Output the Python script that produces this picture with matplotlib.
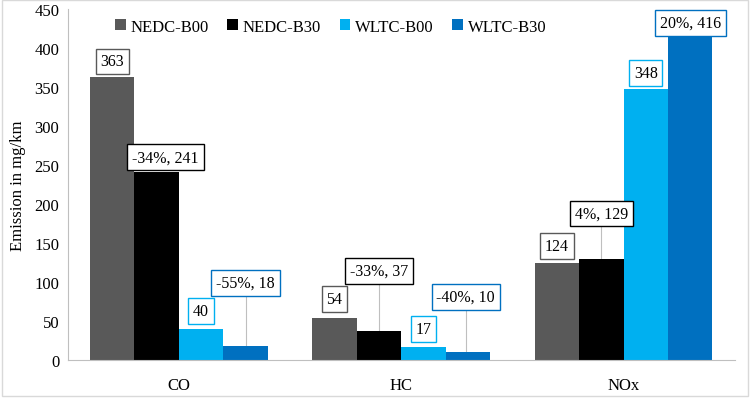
import matplotlib
matplotlib.use("Agg")
import matplotlib.pyplot as plt
import numpy as np
from matplotlib.patches import Rectangle

plt.rcParams['font.family'] = ['Liberation Serif', 'DejaVu Serif']

categories = ["CO", "HC", "NOx"]
series = ["NEDC-B00", "NEDC-B30", "WLTC-B00", "WLTC-B30"]
nedc_b00 = [363, 54, 124]
nedc_b30 = [241, 37, 129]
wltc_b00 = [40, 17, 348]
wltc_b30 = [18, 10, 416]
change_nedc = [-34, -33, 4]
change_wltc = [-55, -40, 20]

colors = ["#595959", "#000000", "#00B0F0", "#0070C0"]

# label layout: (x offset in bar units, y offset in mg/km) per series per category
label_offsets = [
    [(0, 20), (0, 24), (0, 22)],
    [(0.2, 19), (0, 77), (0, 59)],
    [(0, 23), (0, 23), (0, 20)],
    [(0, 81), (-0.05, 71), (0, 16)],
]
leader = [False, True, False, True]

fig = plt.figure(figsize=(7.52, 4.02), dpi=100)
ax = fig.add_axes([0.090, 0.102, 0.887, 0.873])

x = np.arange(len(categories))
w = 0.2
values = [nedc_b00, nedc_b30, wltc_b00, wltc_b30]
for i, (vals, name) in enumerate(zip(values, series)):
    xs = x + (i - 1.5) * w
    ax.bar(xs, vals, width=w, color=colors[i], label=name, zorder=2)
    for j, v in enumerate(vals):
        if i == 1:
            txt = f"{change_nedc[j]}%, {v}"
        elif i == 3:
            txt = f"{change_wltc[j]}%, {v}"
        else:
            txt = f"{v}"
        dx, dy = label_offsets[i][j]
        tx, ty = xs[j] + dx * w, v + dy
        if leader[i] and dy > 30:
            ax.plot([tx, tx], [v, ty], color="#bfbfbf", lw=0.8, zorder=1)
        ax.text(tx, ty, txt, ha="center", va="center", fontsize=11.5, zorder=4,
                bbox=dict(boxstyle="square,pad=0.3", fc="white", ec=colors[i], lw=1.0))

ax.set_xlim(-0.5, 2.5)
ax.set_ylim(0, 450)
ax.set_yticks(np.arange(0, 451, 50))
ax.set_xticks(x)
ax.set_xticklabels(categories, fontsize=12)
ax.tick_params(axis="both", length=0, labelsize=12)
ax.tick_params(axis="x", pad=12)
ax.tick_params(axis="y", pad=6)
ax.set_ylabel("Emission in mg/km", fontsize=12, labelpad=6)
for s in ["top", "right"]:
    ax.spines[s].set_visible(False)
ax.spines["left"].set_color("#bfbfbf")
ax.spines["bottom"].set_color("#bfbfbf")

ax.legend(loc="upper left", bbox_to_anchor=(0.048, 1.015), ncol=4, frameon=False,
          fontsize=12, handlelength=0.65, handleheight=0.65, handletextpad=0.3,
          columnspacing=1.1)

fig.patches.append(Rectangle((0.002, 0.012), 0.993, 0.985, transform=fig.transFigure,
                             fill=False, ec="#d9d9d9", lw=1.0))

fig.savefig("out.png", dpi=100)
